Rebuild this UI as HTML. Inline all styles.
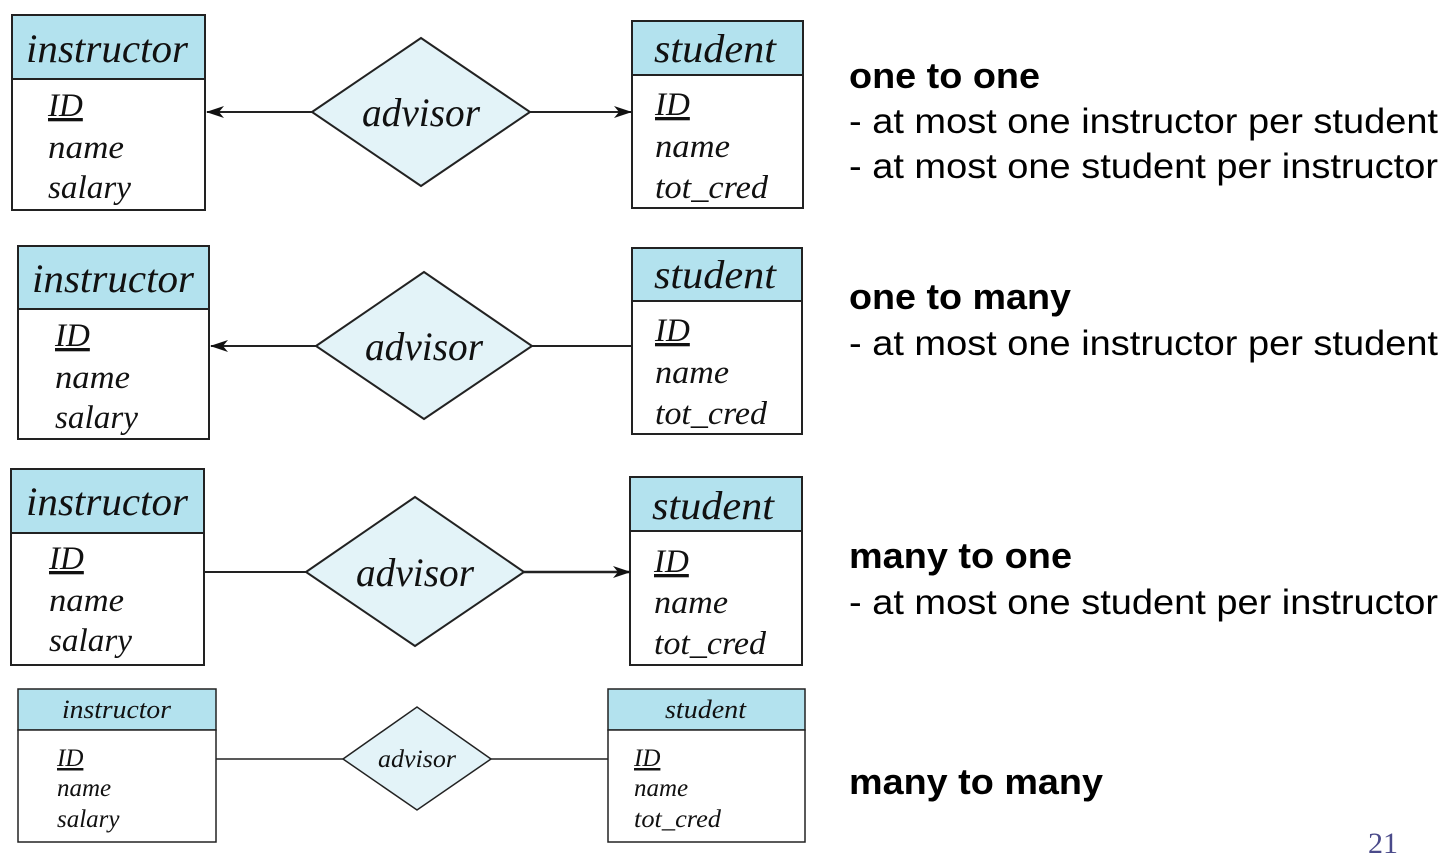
<!DOCTYPE html>
<html><head><meta charset="utf-8"><style>
html,body{margin:0;padding:0;background:#fff;}
svg{display:block}
.t{font-family:"Liberation Serif",serif;font-style:italic;fill:#111}
.s{font-family:"Liberation Sans",sans-serif;fill:#000}
</style></head><body>
<svg width="1454" height="866" viewBox="0 0 1454 866" xmlns="http://www.w3.org/2000/svg">
<defs>
<marker id="ar" markerWidth="18" markerHeight="12" refX="17" refY="6" orient="auto" markerUnits="userSpaceOnUse">
<path d="M0,0 L18,6 L0,12 L5,6 Z" fill="#111"/></marker>
</defs>
<g stroke="#222" stroke-width="2">
<rect x="12" y="15" width="193" height="64" fill="#b3e2ee"/>
<rect x="12" y="79" width="193" height="131" fill="#fff"/>
<rect x="632" y="21" width="171" height="54" fill="#b3e2ee"/>
<rect x="632" y="75" width="171" height="133" fill="#fff"/>
<polygon points="312,112 421,38 530,112 421,186" fill="#e3f3f8"/>
<line x1="312" y1="112" x2="207" y2="112" marker-end="url(#ar)"/>
<line x1="530" y1="112" x2="631" y2="112" marker-end="url(#ar)"/>
<rect x="18" y="246" width="191" height="63" fill="#b3e2ee"/>
<rect x="18" y="309" width="191" height="130" fill="#fff"/>
<rect x="632" y="248" width="170" height="53" fill="#b3e2ee"/>
<rect x="632" y="301" width="170" height="133" fill="#fff"/>
<polygon points="316,346 424,272 532,346 424,419" fill="#e3f3f8"/>
<line x1="316" y1="346" x2="211" y2="346" marker-end="url(#ar)"/>
<line x1="532" y1="346" x2="632" y2="346"/>
<rect x="11" y="469" width="193" height="64" fill="#b3e2ee"/>
<rect x="11" y="533" width="193" height="132" fill="#fff"/>
<rect x="630" y="477" width="172" height="54" fill="#b3e2ee"/>
<rect x="630" y="531" width="172" height="134" fill="#fff"/>
<polygon points="306,572 415,497 524,572 415,646" fill="#e3f3f8"/>
<line x1="204" y1="572" x2="306" y2="572"/>
<line x1="524" y1="572" x2="630" y2="572" marker-end="url(#ar)" stroke-width="2.5"/>
<rect x="18" y="689" width="198" height="41" fill="#b3e2ee" stroke-width="1.5"/>
<rect x="18" y="730" width="198" height="112" fill="#fff" stroke-width="1.5"/>
<rect x="608" y="689" width="197" height="41" fill="#b3e2ee" stroke-width="1.5"/>
<rect x="608" y="730" width="197" height="112" fill="#fff" stroke-width="1.5"/>
<polygon points="343,759 417,707 491,759 417,810" fill="#e3f3f8" stroke-width="1.5"/>
<line x1="216" y1="759" x2="343" y2="759" stroke-width="1.5"/>
<line x1="491" y1="759" x2="608" y2="759" stroke-width="1.5"/>
</g>
<g class="t">
<text x="26" y="62" font-size="40" textLength="162" lengthAdjust="spacingAndGlyphs">instructor</text>
<text x="48" y="116" font-size="33" text-decoration="underline">ID</text>
<text x="48" y="158" font-size="33" textLength="76" lengthAdjust="spacingAndGlyphs">name</text>
<text x="48" y="198" font-size="33" textLength="83" lengthAdjust="spacingAndGlyphs">salary</text>
<text x="654" y="62" font-size="40" textLength="122" lengthAdjust="spacingAndGlyphs">student</text>
<text x="655" y="115" font-size="33" text-decoration="underline">ID</text>
<text x="655" y="157" font-size="33" textLength="75" lengthAdjust="spacingAndGlyphs">name</text>
<text x="655" y="198" font-size="33" textLength="113" lengthAdjust="spacingAndGlyphs">tot_cred</text>
<text x="421" y="126" font-size="40" text-anchor="middle" textLength="118" lengthAdjust="spacingAndGlyphs">advisor</text>

<text x="32" y="292" font-size="40" textLength="162" lengthAdjust="spacingAndGlyphs">instructor</text>
<text x="55" y="346" font-size="33" text-decoration="underline">ID</text>
<text x="55" y="388" font-size="33" textLength="75" lengthAdjust="spacingAndGlyphs">name</text>
<text x="55" y="428" font-size="33" textLength="83" lengthAdjust="spacingAndGlyphs">salary</text>
<text x="654" y="288" font-size="40" textLength="122" lengthAdjust="spacingAndGlyphs">student</text>
<text x="655" y="341" font-size="33" text-decoration="underline">ID</text>
<text x="655" y="383" font-size="33" textLength="74" lengthAdjust="spacingAndGlyphs">name</text>
<text x="655" y="424" font-size="33" textLength="112" lengthAdjust="spacingAndGlyphs">tot_cred</text>
<text x="424" y="360" font-size="40" text-anchor="middle" textLength="118" lengthAdjust="spacingAndGlyphs">advisor</text>

<text x="26" y="515" font-size="40" textLength="162" lengthAdjust="spacingAndGlyphs">instructor</text>
<text x="49" y="569" font-size="33" text-decoration="underline">ID</text>
<text x="49" y="611" font-size="33" textLength="75" lengthAdjust="spacingAndGlyphs">name</text>
<text x="49" y="651" font-size="33" textLength="83" lengthAdjust="spacingAndGlyphs">salary</text>
<text x="652" y="519" font-size="40" textLength="122" lengthAdjust="spacingAndGlyphs">student</text>
<text x="654" y="572" font-size="33" text-decoration="underline">ID</text>
<text x="654" y="613" font-size="33" textLength="74" lengthAdjust="spacingAndGlyphs">name</text>
<text x="654" y="654" font-size="33" textLength="112" lengthAdjust="spacingAndGlyphs">tot_cred</text>
<text x="415" y="586" font-size="40" text-anchor="middle" textLength="118" lengthAdjust="spacingAndGlyphs">advisor</text>

<text x="62" y="718" font-size="26" textLength="109" lengthAdjust="spacingAndGlyphs">instructor</text>
<text x="57" y="766" font-size="25" text-decoration="underline">ID</text>
<text x="57" y="796" font-size="25">name</text>
<text x="57" y="827" font-size="25">salary</text>
<text x="665" y="718" font-size="26" textLength="81" lengthAdjust="spacingAndGlyphs">student</text>
<text x="634" y="766" font-size="25" text-decoration="underline">ID</text>
<text x="634" y="796" font-size="25">name</text>
<text x="634" y="827" font-size="25" textLength="87" lengthAdjust="spacingAndGlyphs">tot_cred</text>
<text x="417" y="767" font-size="25" text-anchor="middle" textLength="78" lengthAdjust="spacingAndGlyphs">advisor</text>
</g>
<g class="s">
<text x="849" y="88" font-size="36" font-weight="bold" textLength="191" lengthAdjust="spacingAndGlyphs">one to one</text>
<text x="849" y="133" font-size="35" textLength="589" lengthAdjust="spacingAndGlyphs">- at most one instructor per student</text>
<text x="849" y="178" font-size="35" textLength="589" lengthAdjust="spacingAndGlyphs">- at most one student per instructor</text>
<text x="849" y="309" font-size="36" font-weight="bold" textLength="222" lengthAdjust="spacingAndGlyphs">one to many</text>
<text x="849" y="355" font-size="35" textLength="589" lengthAdjust="spacingAndGlyphs">- at most one instructor per student</text>
<text x="849" y="568" font-size="36" font-weight="bold" textLength="223" lengthAdjust="spacingAndGlyphs">many to one</text>
<text x="849" y="614" font-size="35" textLength="589" lengthAdjust="spacingAndGlyphs">- at most one student per instructor</text>
<text x="849" y="794" font-size="36" font-weight="bold" textLength="254" lengthAdjust="spacingAndGlyphs">many to many</text>
</g>
<text x="1368" y="853" font-size="30" font-family="Liberation Serif,serif" fill="#4a4a8a">21</text>
</svg>
</body></html>
